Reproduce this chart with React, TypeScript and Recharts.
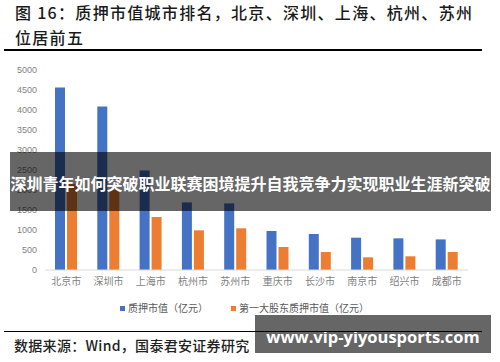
import React from 'react';
import { BarChart, Bar, XAxis, YAxis } from 'recharts';

// 城市与质押市值（亿元）
const cities = ['北京市', '深圳市', '上海市', '杭州市', '苏州市', '重庆市', '长沙市', '南京市', '绍兴市', '成都市'];
const pledgeValue = [4560, 4090, 2490, 1690, 1665, 975, 900, 808, 792, 765];
const topHolderValue = [2150, 2000, 1325, 992, 1042, 575, 450, 317, 342, 450];
const yTicks = [0, 500, 1000, 1500, 2000, 2500, 3000, 3500, 4000, 4500, 5000];

const seriesNames = ['质押市值（亿元）', '第一大股东质押市值（亿元）'];
const seriesColors = ['#4472C4', '#ED7D31'];

const data = cities.map((c, i) => ({ city: c, a: pledgeValue[i], b: topHolderValue[i] }));

const cjk = '"Noto Sans CJK SC", "Noto Sans", sans-serif';

export default function App() {
  return (
    <div
      style={{
        position: 'absolute',
        left: 0,
        top: 0,
        width: 500,
        height: 362,
        background: '#fff',
        overflow: 'hidden',
        fontFamily: cjk,
      }}
    >
      {/* 标题 */}
      <div style={{ position: 'absolute', left: 15, top: 0, fontSize: 16, fontWeight: 500, lineHeight: '25px', color: '#1a1a1a', letterSpacing: 1.3, whiteSpace: 'nowrap' }}>
        <div>图 16：质押市值城市排名，北京、深圳、上海、杭州、苏州</div>
        <div>位居前五</div>
      </div>
      <div style={{ position: 'absolute', left: 4, top: 49, width: 478, height: 1.5, background: '#000' }} />

      <div style={{ position: 'absolute', left: 0, top: 0 }}>
        <BarChart width={500} height={300} data={data} margin={{ top: 70, right: 32, bottom: 0, left: 0 }} barGap={2}>
          <XAxis
            dataKey="city"
            height={30}
            tickLine={false}
            axisLine={{ stroke: '#d9d9d9' }}
            tick={{ fill: '#7f7f7f', fontSize: 10, fontFamily: cjk }}
            interval={0}
          />
          <YAxis
            width={45}
            domain={[0, 5000]}
            ticks={yTicks}
            axisLine={false}
            tickLine={false}
            tickMargin={2}
            tick={{ fill: '#7f7f7f', fontSize: 9, fontFamily: '"Liberation Sans", sans-serif' }}
          />
          <Bar dataKey="a" name={seriesNames[0]} fill={seriesColors[0]} barSize={10} isAnimationActive={false} />
          <Bar dataKey="b" name={seriesNames[1]} fill={seriesColors[1]} barSize={10} isAnimationActive={false} />
        </BarChart>
      </div>

      {/* 图例 */}
      <div style={{ position: 'absolute', top: 301, left: 120, display: 'flex', alignItems: 'center', fontSize: 10, color: '#595959', lineHeight: '14px', whiteSpace: 'nowrap' }}>
        <span style={{ display: 'inline-block', width: 5, height: 5, background: seriesColors[0], marginRight: 3 }} />
        <span style={{ marginRight: 23 }}>{seriesNames[0]}</span>
        <span style={{ display: 'inline-block', width: 5, height: 5, background: seriesColors[1], marginRight: 3 }} />
        <span>{seriesNames[1]}</span>
      </div>

      {/* 叠加横幅 */}
      <div
        style={{
          position: 'absolute',
          left: 10,
          top: 152,
          width: 481,
          height: 59,
          background: 'rgba(0,0,0,0.6)',
          color: '#fff',
          fontWeight: 'bold',
          fontSize: 16,
          display: 'flex',
          alignItems: 'center',
          justifyContent: 'center',
          whiteSpace: 'nowrap',
          paddingTop: 3,
          boxSizing: 'border-box',
        }}
      >
        深圳青年如何突破职业联赛困境提升自我竞争力实现职业生涯新突破
      </div>

      {/* 水印 */}
      <div
        style={{
          position: 'absolute',
          left: 255,
          top: 315,
          width: 236,
          height: 38,
          background: 'rgba(0,0,0,0.6)',
          color: '#fff',
          fontWeight: 'bold',
          fontSize: 16.5,
          fontFamily: '"Open Sans", sans-serif',
          display: 'flex',
          alignItems: 'center',
          justifyContent: 'center',
          paddingTop: 4,
          boxSizing: 'border-box',
          whiteSpace: 'nowrap',
        }}
      >
        www.vip-yiyousports.com
      </div>

      <div style={{ position: 'absolute', left: 4, top: 330.5, width: 478, height: 1.5, background: '#000' }} />
      <div style={{ position: 'absolute', left: 14, top: 336, fontSize: 14, fontWeight: 500, lineHeight: '18px', color: '#222', letterSpacing: 0.3, whiteSpace: 'nowrap' }}>
        数据来源：Wind，国泰君安证券研究
      </div>
    </div>
  );
}
